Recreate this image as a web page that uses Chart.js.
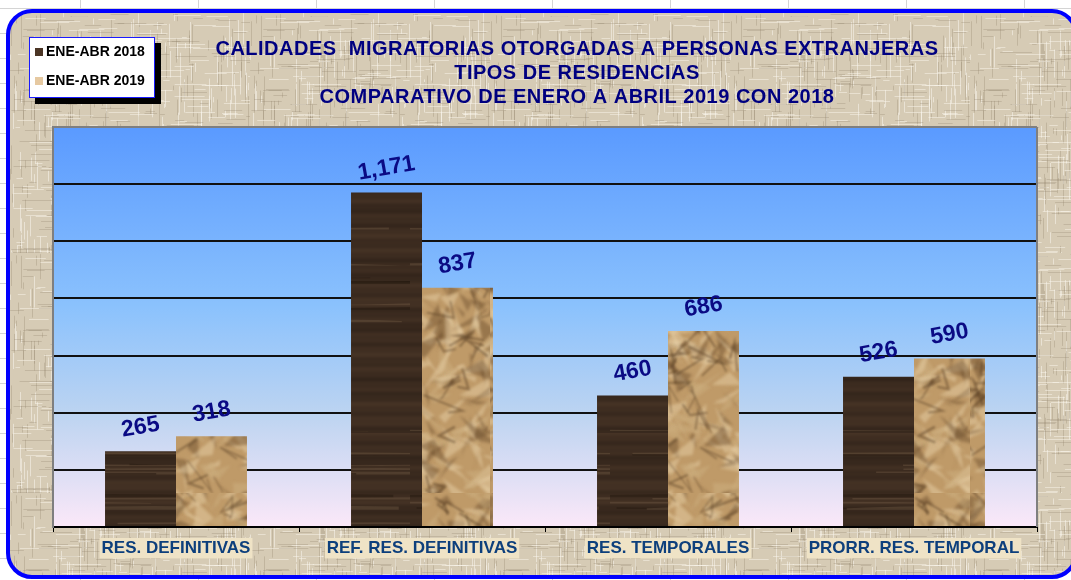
<!DOCTYPE html>
<html>
<head>
<meta charset="utf-8">
<script src="https://cdn.jsdelivr.net/npm/chart.js@4.4.1/dist/chart.umd.min.js"></script>
<style>
  html, body { margin: 0; padding: 0; }
  body {
    width: 1071px; height: 580px; overflow: hidden; position: relative;
    background-color: #ffffff;
    background-image:
      linear-gradient(to right, #d4d4d4 1px, transparent 1px),
      linear-gradient(to bottom, #d4d4d4 1px, transparent 1px);
    background-size: 118px 25px, 118px 25px;
    background-position: 80px 0, 0 8px;
    font-family: "Liberation Sans", Arial, sans-serif;
  }
  #frame {
    position: absolute; left: 6px; top: 9px; width: 1064px; height: 562px;
    border: 4px solid #0000ff; border-radius: 26px; overflow: hidden;
    background-color: #d8cdb8;
  }
  #chart { position: absolute; left: 0; top: 0; }
  #title {
    position: absolute; left: 567px; top: 23px; transform: translateX(-50%);
    color: #000080; font-weight: bold; font-size: 20px; line-height: 24px;
    text-align: center; white-space: nowrap; letter-spacing: 0.5px;
  }
  #legend {
    position: absolute; left: 19px; top: 24px; width: 124px; height: 59px;
    background: #ffffff; border: 1px solid #1a1aff;
    box-shadow: 6px 6px 0 #000000;
  }
  .lg { position: absolute; left: 5px; font-weight: bold; font-size: 14px; color: #000; white-space: nowrap; }
  .lg span.sw { display: inline-block; width: 8px; height: 8px; margin-right: 3px; vertical-align: 0px; }
</style>
</head>
<body>
<div id="frame">
  <canvas id="chart" width="1061" height="560"></canvas>
  <div id="title"></div>
  <div id="legend"></div>
</div>
<script>
// ---------- DATA ----------
const categories = ["RES. DEFINITIVAS", "REF. RES. DEFINITIVAS", "RES. TEMPORALES", "PRORR. RES. TEMPORAL"];
const seriesNames = ["ENE-ABR 2018", "ENE-ABR 2019"];
const values2018 = [265, 1171, 460, 526];
const values2019 = [318, 837, 686, 590];
const titleLines = [
  "CALIDADES  MIGRATORIAS OTORGADAS A PERSONAS EXTRANJERAS",
  "TIPOS DE RESIDENCIAS",
  "COMPARATIVO DE ENERO A ABRIL 2019 CON 2018"
];
const yMin = 0, yMax = 1400, yStep = 200;

// ---------- textures (styling only) ----------
function rng(seed) { return () => { seed = (seed * 1664525 + 1013904223) >>> 0; return seed / 4294967296; }; }

function burlap() {
  const c = document.createElement('canvas'); c.width = 240; c.height = 240;
  const g = c.getContext('2d'); const r = rng(7);
  g.fillStyle = '#d6cbb5'; g.fillRect(0, 0, 240, 240);
  for (let i = 0; i < 420; i++) {
    const x = Math.floor(r() * 240), y0 = r() * 240, len = 4 + r() * 30;
    g.fillStyle = r() < 0.5 ? 'rgba(250,246,236,0.55)' : 'rgba(140,125,100,0.28)';
    g.fillRect(x, y0, 1, len);
  }
  for (let i = 0; i < 420; i++) {
    const y = Math.floor(r() * 240), x0 = r() * 240, len = 4 + r() * 30;
    g.fillStyle = r() < 0.5 ? 'rgba(250,246,236,0.5)' : 'rgba(140,125,100,0.26)';
    g.fillRect(x0, y, len, 1);
  }
  return c.toDataURL();
}
function wood(ctx) {
  const c = document.createElement('canvas'); c.width = 200; c.height = 420;
  const g = c.getContext('2d'); const r = rng(11);
  const ph = [r() * 6, r() * 6, r() * 6];
  for (let y = 0; y < 420; y++) {
    const v = Math.sin(y * 0.37 + ph[0]) * 0.5 + Math.sin(y * 0.11 + ph[1]) * 0.3 + Math.sin(y * 0.9 + ph[2]) * 0.2;
    const k = 0.5 + 0.5 * v;
    const R = Math.round(50 + 20 * k), G = Math.round(36 + 15 * k), B = Math.round(26 + 11 * k);
    g.fillStyle = `rgb(${R},${G},${B})`; g.fillRect(0, y, 200, 1);
  }
  g.filter = 'blur(0.6px)';
  for (let i = 0; i < 30; i++) {
    const y = r() * 420, x = r() * 200 - 50, w = 80 + r() * 200;
    g.fillStyle = r() < 0.6 ? 'rgba(120,98,75,0.35)' : 'rgba(25,16,10,0.35)';
    g.beginPath();
    g.moveTo(x, y); g.quadraticCurveTo(x + w / 2, y + (r() - 0.5) * 6, x + w, y + (r() - 0.5) * 4);
    g.lineTo(x + w, y + 1.5); g.quadraticCurveTo(x + w / 2, y + 1.5, x, y + 1.5); g.closePath(); g.fill();
  }
  g.filter = 'none';
  return ctx.createPattern(c, 'repeat');
}
function paper(ctx) {
  const c = document.createElement('canvas'); c.width = 160; c.height = 240;
  const g = c.getContext('2d'); const r = rng(23);
  g.fillStyle = '#bf9a68'; g.fillRect(0, 0, 160, 240);
  g.filter = 'blur(1.5px)';
  for (let i = 0; i < 320; i++) {
    const x = r() * 180 - 10, y = r() * 260 - 10;
    g.beginPath(); g.moveTo(x, y);
    g.lineTo(x + (r() - 0.5) * 60, y + (r() - 0.5) * 60);
    g.lineTo(x + (r() - 0.5) * 40, y + (r() - 0.5) * 40);
    g.closePath();
    const t = r();
    g.fillStyle = t < 0.45 ? 'rgba(235,212,172,0.45)' : (t < 0.78 ? 'rgba(95,66,36,0.4)' : 'rgba(205,175,128,0.5)');
    g.fill();
  }
  g.filter = 'blur(0.8px)';
  for (let i = 0; i < 60; i++) {
    const x = r() * 160, y = r() * 240;
    g.strokeStyle = 'rgba(80,55,30,0.45)'; g.lineWidth = 1 + r() * 1.5;
    g.beginPath(); g.moveTo(x, y);
    g.lineTo(x + (r() - 0.5) * 40, y + (r() - 0.5) * 40);
    g.lineTo(x + (r() - 0.5) * 50, y + (r() - 0.5) * 50);
    g.stroke();
  }
  g.filter = 'none';
  return ctx.createPattern(c, 'repeat');
}

document.getElementById('frame').style.backgroundImage = `url(${burlap()})`;

// title + legend (real text)
document.getElementById('title').innerHTML = titleLines.map(t => `<div>${t.replace(/ /g, '&nbsp;')}</div>`).join('');
const swatch = ['#4b3525', '#e6c9a1'];
document.getElementById('legend').innerHTML = seriesNames.map((n, i) =>
  `<div class="lg" style="top:${i === 0 ? 5 : 34}px"><span class="sw" style="background:${swatch[i]}"></span>${n}</div>`).join('');

const canvas = document.getElementById('chart');
const ctx = canvas.getContext('2d');

const plotBg = {
  id: 'plotBg',
  beforeDraw(chart) {
    const a = chart.chartArea, c = chart.ctx;
    const gr = c.createLinearGradient(0, a.top, 0, a.bottom);
    gr.addColorStop(0, '#5a9aff');
    gr.addColorStop(0.45, '#8bc2fd');
    gr.addColorStop(0.72, '#bdd4f1');
    gr.addColorStop(1, '#fbe8f8');
    c.save(); c.fillStyle = gr; c.fillRect(a.left, a.top, a.right - a.left, a.bottom - a.top); c.restore();
  },
  afterDraw(chart) {
    const a = chart.chartArea, c = chart.ctx;
    c.save(); c.strokeStyle = '#7f7f7f'; c.lineWidth = 2;
    c.beginPath(); c.moveTo(a.right, a.top); c.lineTo(a.right, a.bottom); c.stroke();
    c.restore();
  }
};
const barLabels = {
  id: 'barLabels',
  afterDatasetsDraw(chart) {
    const c = chart.ctx;
    c.save();
    c.fillStyle = '#0a0a84';
    c.font = 'bold 23px "Liberation Sans", Arial, sans-serif';
    c.textAlign = 'center'; c.textBaseline = 'middle';
    chart.data.datasets.forEach((ds, di) => {
      chart.getDatasetMeta(di).data.forEach((bar, i) => {
        c.save();
        c.translate(bar.x, bar.y - 24);
        c.rotate(-10 * Math.PI / 180);
        c.fillText(ds.data[i].toLocaleString('en-US'), 0, 0);
        c.restore();
      });
    });
    c.restore();
  }
};

new Chart(canvas, {
  type: 'bar',
  data: {
    labels: categories,
    datasets: [
      { label: seriesNames[0], data: values2018, backgroundColor: wood(ctx), borderWidth: 0 },
      { label: seriesNames[1], data: values2019, backgroundColor: paper(ctx), borderWidth: 0 }
    ]
  },
  options: {
    responsive: false, animation: false, devicePixelRatio: 1,
    layout: { padding: { left: 43, top: 114, right: 34, bottom: 0 } },
    datasets: { bar: { categoryPercentage: 0.577, barPercentage: 1.0 } },
    plugins: { legend: { display: false }, title: { display: false }, tooltip: { enabled: false } },
    scales: {
      x: {
        offset: true,
        grid: { offset: true, drawOnChartArea: false, drawTicks: true, tickLength: 5, color: '#000', lineWidth: 1 },
        border: { display: true, color: '#000', width: 2 },
        ticks: {
          color: '#0d3f7c', font: { family: '"Liberation Sans", Arial, sans-serif', size: 17, weight: 'bold' },
          padding: 6, maxRotation: 0, autoSkip: false,
          showLabelBackdrop: true, backdropColor: '#efe3c6', backdropPadding: { top: 0, bottom: 0, left: 2, right: 2 }
        },
        afterFit(s) { s.height = 46; }
      },
      y: {
        min: yMin, max: yMax,
        ticks: { display: false, stepSize: yStep },
        grid: {
          drawTicks: false,
          color: c => (c.tick && c.tick.value === yMax) ? '#7f7f7f' : '#111',
          lineWidth: 2
        },
        border: { display: true, color: '#7f7f7f', width: 2 },
        afterFit(s) { s.width = 0; }
      }
    }
  },
  plugins: [plotBg, barLabels]
});
</script>
</body>
</html>
